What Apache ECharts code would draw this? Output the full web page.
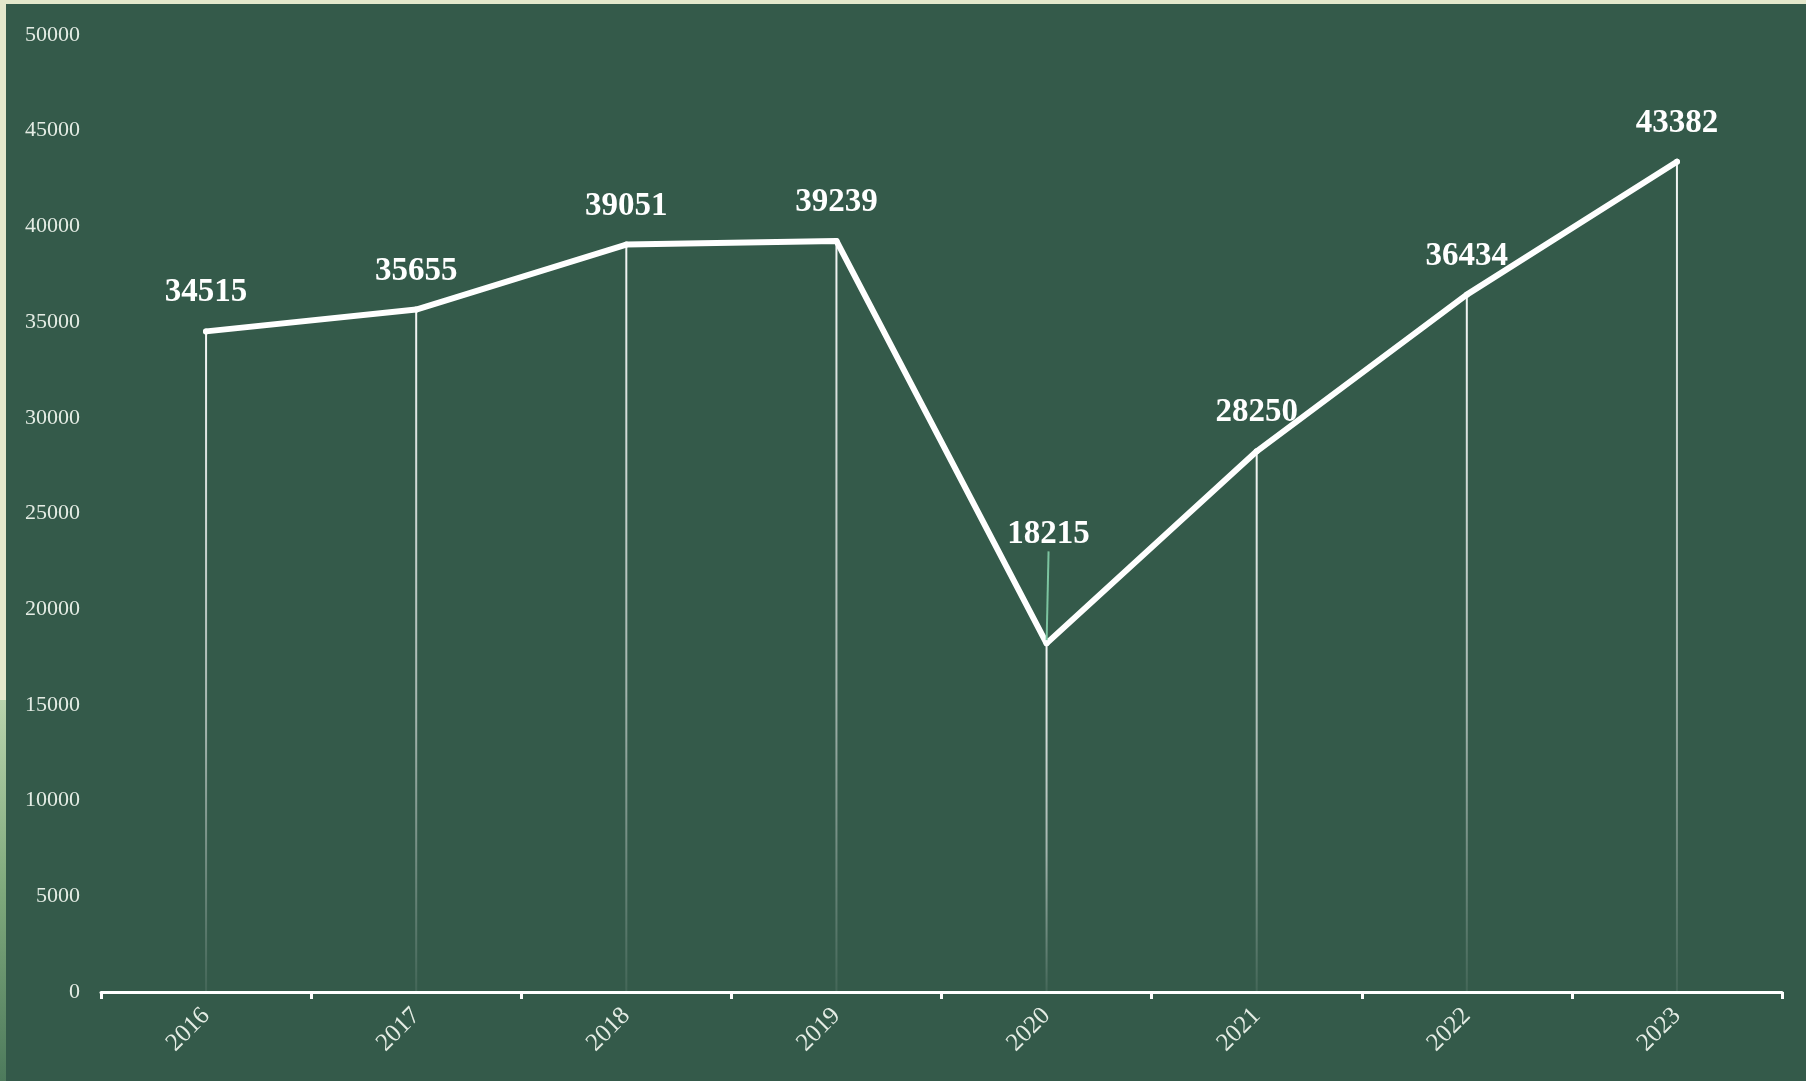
<!DOCTYPE html>
<html>
<head>
<meta charset="utf-8">
<style>
  html, body { margin: 0; padding: 0; background: #e4e8cc; }
  #chart { width: 1806px; height: 1081px; }
</style>
<script src="https://cdn.jsdelivr.net/npm/echarts@6/dist/echarts.min.js"></script>
</head>
<body>
<div id="chart"></div>
<script>
(function() {
  var years = ['2016', '2017', '2018', '2019', '2020', '2021', '2022', '2023'];
  var values = [34515, 35655, 39051, 39239, 18215, 28250, 36434, 43382];
  // label of the 2020 dip sits higher, with a leader line
  var liftedIndex = 4;

  var panel = '#345a4a';
  var ink = '#ffffff';
  var soft = '#e4ece4';
  var serif = '"Liberation Serif", "DejaVu Serif", serif';

  var lineData = values.map(function(v, i) {
    if (i === liftedIndex) {
      return { value: v, labelLine: { show: true } };
    }
    return v;
  });

  var chart = echarts.init(document.getElementById('chart'), null, { renderer: 'canvas' });

  chart.setOption({
    animation: false,
    backgroundColor: '#e4e8cc',
    graphic: [
      {
        type: 'rect',
        z: -10,
        shape: { x: 6, y: 4, width: 1800, height: 1077 },
        style: { fill: panel }
      },
      {
        // leafy strip on the left edge
        type: 'rect',
        z: -10,
        shape: { x: 0, y: 700, width: 6, height: 381 },
        style: {
          fill: new echarts.graphic.LinearGradient(0, 0, 0, 1, [
            { offset: 0, color: '#b9d4ad' },
            { offset: 0.5, color: '#7fa97c' },
            { offset: 1, color: '#4d7a5c' }
          ])
        }
      }
    ],
    grid: { left: 101, right: 24, top: 35, bottom: 89 },
    xAxis: {
      type: 'category',
      data: years,
      boundaryGap: true,
      axisLine: { lineStyle: { color: ink, width: 3 } },
      axisTick: { show: true, length: 7, lineStyle: { color: ink, width: 3 } },
      axisLabel: {
        rotate: 45,
        margin: 20,
        color: soft,
        fontFamily: serif,
        fontSize: 25
      },
      splitLine: { show: false }
    },
    yAxis: {
      type: 'value',
      min: 0,
      max: 50000,
      interval: 5000,
      axisLine: { show: false },
      axisTick: { show: false },
      splitLine: { show: false },
      axisLabel: {
        color: soft,
        fontFamily: serif,
        fontSize: 22,
        margin: 21,
        formatter: function(v) { return String(v); }
      }
    },
    series: [
      {
        name: 'drop',
        type: 'bar',
        data: values,
        barWidth: 2,
        silent: true,
        z: 1,
        itemStyle: {
          color: new echarts.graphic.LinearGradient(0, 0, 0, 1, [
            { offset: 0, color: 'rgba(255,255,255,0.95)' },
            { offset: 0.6, color: 'rgba(255,255,255,0.55)' },
            { offset: 1, color: 'rgba(255,255,255,0.08)' }
          ])
        }
      },
      {
        name: 'value',
        type: 'line',
        data: lineData,
        z: 3,
        symbol: 'circle',
        symbolSize: 6,
        itemStyle: { color: ink },
        lineStyle: { color: ink, width: 6, cap: 'round', join: 'round' },
        label: {
          show: true,
          position: 'top',
          distance: 19,
          color: ink,
          fontFamily: serif,
          fontWeight: 'bold',
          fontSize: 33
        },
        labelLine: {
          show: false,
          lineStyle: { color: '#7cc4a0', width: 2 }
        },
        labelLayout: function(params) {
          if (params.dataIndex === liftedIndex) {
            return { dx: 2, dy: -70 };
          }
          return {};
        }
      }
    ]
  });

  window.addEventListener('resize', function() { chart.resize(); });
})();
</script>
</body>
</html>
